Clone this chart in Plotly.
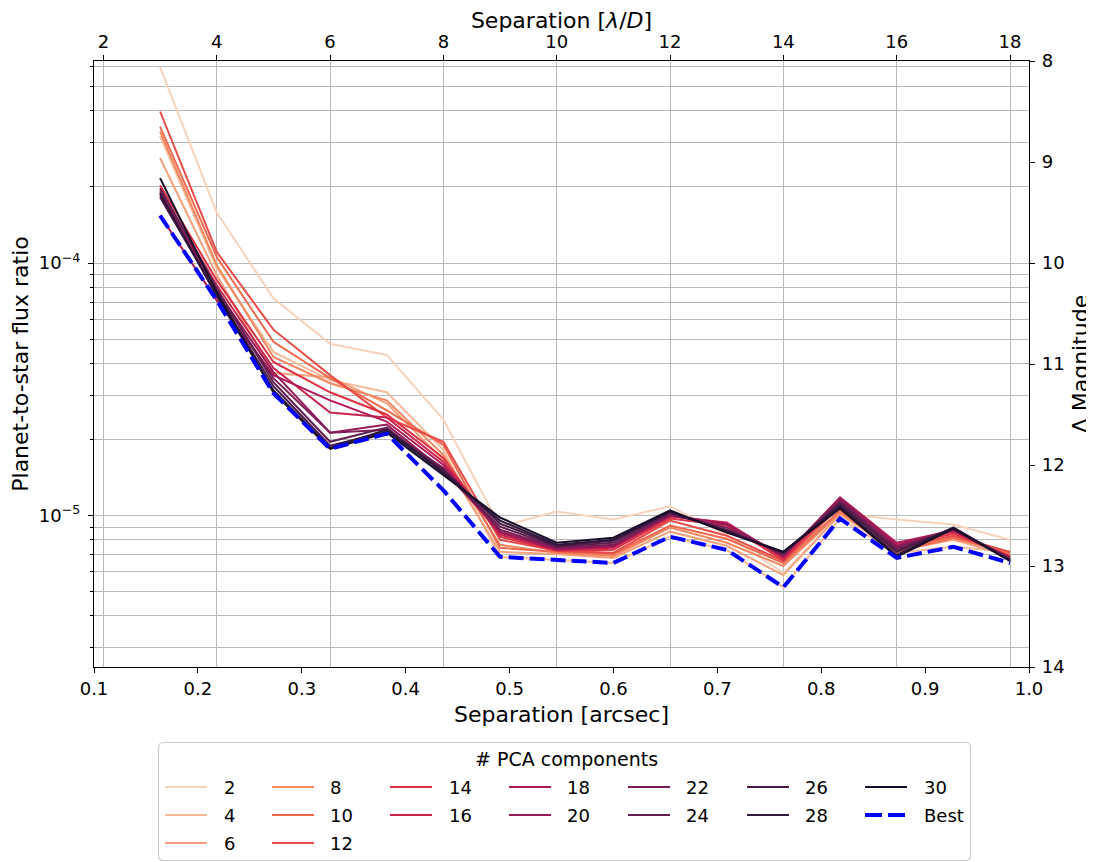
import math
import plotly.graph_objects as go

# ---------------- data ----------------
components = [2, 4, 6, 8, 10, 12, 14, 16, 18, 20, 22, 24, 26, 28, 30]
sep_lod = [3, 4, 5, 6, 7, 8, 9, 10, 11, 12, 13, 14, 15, 16, 17, 18]   # separation in lambda/D

# contrast curves in Delta magnitude (right axis), one list per number of PCA components
m02 = [8.06, 9.50, 10.35, 10.80, 10.91, 11.55, 12.61, 12.46, 12.54, 12.41, 12.69, 13.07, 12.48, 12.54, 12.59, 12.74]
m04 = [8.74, 10.05, 10.88, 11.16, 11.28, 11.85, 12.91, 12.94, 12.97, 12.71, 12.84, 13.21, 12.53, 12.87, 12.81, 12.86]
m06 = [8.96, 10.12, 11.09, 11.13, 11.39, 11.95, 12.86, 12.88, 12.92, 12.66, 12.80, 13.09, 12.49, 12.85, 12.74, 12.90]
m08 = [8.70, 10.02, 10.93, 11.19, 11.36, 11.90, 12.79, 12.87, 12.90, 12.62, 12.77, 13.00, 12.47, 12.84, 12.72, 12.88]
m10 = [8.65, 9.94, 10.78, 11.14, 11.46, 11.80, 12.82, 12.86, 12.88, 12.60, 12.73, 12.97, 12.45, 12.86, 12.72, 12.87]
m12 = [8.50, 9.89, 10.66, 11.11, 11.53, 11.77, 12.74, 12.85, 12.87, 12.55, 12.70, 12.95, 12.41, 12.82, 12.70, 12.86]
m14 = [9.23, 10.17, 10.98, 11.28, 11.50, 11.93, 12.71, 12.85, 12.84, 12.53, 12.60, 12.94, 12.37, 12.80, 12.68, 12.90]
m16 = [9.28, 10.22, 11.04, 11.48, 11.53, 11.97, 12.69, 12.84, 12.82, 12.51, 12.57, 12.92, 12.34, 12.78, 12.66, 12.91]
m18 = [9.53, 10.37, 11.11, 11.36, 11.57, 12.00, 12.67, 12.84, 12.81, 12.50, 12.58, 12.91, 12.32, 12.77, 12.65, 12.92]
m20 = [9.30, 10.27, 11.08, 11.68, 11.60, 12.05, 12.66, 12.83, 12.80, 12.50, 12.59, 12.90, 12.33, 12.80, 12.64, 12.92]
m22 = [9.33, 10.29, 11.14, 11.68, 11.65, 12.03, 12.64, 12.82, 12.79, 12.49, 12.62, 12.89, 12.35, 12.82, 12.64, 12.93]
m24 = [9.26, 10.25, 11.18, 11.77, 11.63, 12.07, 12.61, 12.81, 12.77, 12.48, 12.64, 12.88, 12.37, 12.84, 12.63, 12.94]
m26 = [9.35, 10.31, 11.22, 11.81, 11.67, 12.05, 12.58, 12.80, 12.75, 12.47, 12.65, 12.87, 12.39, 12.86, 12.62, 12.94]
m28 = [9.31, 10.33, 11.26, 11.83, 11.65, 12.08, 12.55, 12.79, 12.74, 12.46, 12.66, 12.86, 12.41, 12.89, 12.62, 12.95]
m30 = [9.16, 10.29, 11.28, 11.84, 11.68, 12.10, 12.52, 12.77, 12.72, 12.45, 12.67, 12.86, 12.43, 12.91, 12.63, 12.95]
best = [9.53, 10.37, 11.29, 11.84, 11.69, 12.25, 12.91, 12.94, 12.97, 12.71, 12.84, 13.21, 12.53, 12.92, 12.81, 12.97]

series = [m02, m04, m06, m08, m10, m12, m14, m16, m18, m20, m22, m24, m26, m28, m30]

LAM_ARCSEC = 0.05454          # 1 lambda/D in arcsec
arcsec_ticks = [0.1, 0.2, 0.3, 0.4, 0.5, 0.6, 0.7, 0.8, 0.9, 1.0]
arcsec_labels = ["0.1", "0.2", "0.3", "0.4", "0.5", "0.6", "0.7", "0.8", "0.9", "1.0"]
lod_ticks = [2, 4, 6, 8, 10, 12, 14, 16, 18]
mag_ticks = [8, 9, 10, 11, 12, 13, 14]
flux_major = [1e-5, 1e-4]
flux_major_labels = ["10<sup>−5</sup>", "10<sup>−4</sup>"]
flux_minor = [k * 10.0 ** e for e in (-6, -5, -4) for k in range(2, 10)]

# ---------------- colours (seaborn "rocket", reversed) ----------------
rocket_anchor = ["#03051a", "#35193e", "#701f57", "#ad1759", "#e13342", "#f37651", "#f6b48f", "#faebdd"]


def hex2rgb(h):
    return tuple(int(h[i:i + 2], 16) for i in (1, 3, 5))


def rocket(t):
    n = len(rocket_anchor) - 1
    p = t * n
    i = min(int(p), n - 1)
    f = p - i
    a, b = hex2rgb(rocket_anchor[i]), hex2rgb(rocket_anchor[i + 1])
    return "rgb(%d,%d,%d)" % tuple(round(a[k] + (b[k] - a[k]) * f) for k in range(3))


N = len(components)
colors = [rocket(1 - (i + 1) / (N + 1)) for i in range(N)]
BEST_COLOR = "#0000ff"
GRID = "#b9b9b9"

# ---------------- geometry (screen pixels; the page body has an 8px margin) ----------------
OFF = 8
W, H = 1094 - OFF, 862 - OFF
PX0, PX1, PY0, PY1 = 94, 1029, 61, 667          # plot area on screen
L, T = PX0 - OFF, PY0 - OFF
R, B = OFF + W - PX1, OFF + H - PY1
PW, PH = PX1 - PX0, PY1 - PY0

fig = go.Figure()
# anchor trace for the base (arcsec / flux) axes
fig.add_trace(go.Scatter(x=[], y=[], xaxis="x", yaxis="y", showlegend=False, hoverinfo="skip"))

for comp, mags, col in zip(components, series, colors):
    fig.add_trace(go.Scatter(
        x=sep_lod, y=mags, mode="lines", name=str(comp),
        line=dict(color=col, width=2), xaxis="x2", yaxis="y2", showlegend=False))
fig.add_trace(go.Scatter(
    x=sep_lod, y=best, mode="lines", name="Best",
    line=dict(color=BEST_COLOR, width=4, dash="15px,6px"), xaxis="x2", yaxis="y2", showlegend=False))

mag_lo, mag_hi = min(mag_ticks), max(mag_ticks)
tick_font = dict(family="DejaVu Sans", size=18, color="black")
title_font = dict(family="DejaVu Sans", size=22, color="black")
common = dict(showline=True, linecolor="black", linewidth=1.3, ticks="outside", ticklen=5,
              tickwidth=1.2, tickcolor="black", zeroline=False, automargin=False, tickfont=tick_font)

fig.update_layout(
    width=W, height=H,
    margin=dict(l=L, r=R, t=T, b=B),
    paper_bgcolor="white", plot_bgcolor="white",
    font=dict(family="DejaVu Sans", size=18, color="black"),
    showlegend=False,
    xaxis=dict(range=[min(arcsec_ticks), max(arcsec_ticks)], tickmode="array",
               tickvals=arcsec_ticks, ticktext=arcsec_labels, showgrid=False,
               title=dict(text="Separation [arcsec]", font=title_font, standoff=8), **common),
    xaxis2=dict(overlaying="x", side="top", anchor="y",
                range=[min(arcsec_ticks) / LAM_ARCSEC, max(arcsec_ticks) / LAM_ARCSEC],
                tickmode="array", tickvals=lod_ticks, showgrid=True, gridcolor=GRID, gridwidth=1.2,
                title=dict(text="Separation [<i>λ</i>/<i>D</i>]", font=title_font, standoff=11), **common),
    yaxis=dict(type="log", range=[-0.4 * mag_hi, -0.4 * mag_lo], tickmode="array",
               tickvals=flux_major, ticktext=flux_major_labels, showgrid=True, gridcolor=GRID,
               gridwidth=1.2, ticklabelstandoff=4,
               minor=dict(tickmode="array", tickvals=flux_minor, ticks="outside", ticklen=3,
                          tickwidth=1, tickcolor="black", showgrid=True, gridcolor=GRID, gridwidth=1.2),
               title=dict(text="Planet-to-star flux ratio", font=title_font, standoff=6), **common),
    yaxis2=dict(overlaying="y", side="right", anchor="x", range=[mag_hi, mag_lo],
                tickmode="array", tickvals=mag_ticks, showgrid=False, ticklabelstandoff=3,
                title=dict(text="Δ Magnitude", font=title_font, standoff=8), **common),
)

# ---------------- legend (drawn below the plot, matplotlib style) ----------------
def X(px):
    return (px - PX0) / PW


def Y(py):
    return (PY1 - py) / PH


bx0, bx1, by0, by1, rad = 158.5, 970.5, 742.5, 860.5, 5
rx, ry = rad / PW, rad / PH
path = (f"M{X(bx0)+rx},{Y(by0)} L{X(bx1)-rx},{Y(by0)} Q{X(bx1)},{Y(by0)} {X(bx1)},{Y(by0)-ry} "
        f"L{X(bx1)},{Y(by1)+ry} Q{X(bx1)},{Y(by1)} {X(bx1)-rx},{Y(by1)} "
        f"L{X(bx0)+rx},{Y(by1)} Q{X(bx0)},{Y(by1)} {X(bx0)},{Y(by1)+ry} "
        f"L{X(bx0)},{Y(by0)-ry} Q{X(bx0)},{Y(by0)} {X(bx0)+rx},{Y(by0)} Z")
fig.add_shape(type="path", path=path, xref="paper", yref="paper",
              line=dict(color="#cccccc", width=1.2), fillcolor="rgba(255,255,255,0.8)", layer="above")

fig.add_annotation(text="# PCA components", x=X(566), y=Y(759), xref="paper", yref="paper",
                   showarrow=False, xanchor="center", yanchor="middle",
                   font=dict(family="DejaVu Sans", size=19, color="black"))

labels = [str(c) for c in components] + ["Best"]
styles = [dict(color=c, width=2) for c in colors] + [dict(color=BEST_COLOR, width=4, dash="17px,6px")]
col_counts = [3, 3, 2, 2, 2, 2, 2]
col_line_x = [165, 272, 390, 509, 628, 747, 865]
col_text_x = [222, 328, 447, 565, 684, 803, 922]
row_y = [787, 815, 843]
k = 0
for c, cnt in enumerate(col_counts):
    for r in range(cnt):
        yy = Y(row_y[r])
        fig.add_shape(type="line", xref="paper", yref="paper",
                      x0=X(col_line_x[c]), x1=X(col_line_x[c] + 42), y0=yy, y1=yy,
                      line=styles[k], layer="above")
        fig.add_annotation(text=labels[k], x=X(col_text_x[c]), y=yy, xref="paper", yref="paper",
                           showarrow=False, xanchor="left", yanchor="middle", font=tick_font)
        k += 1

fig.write_html("out.html")
